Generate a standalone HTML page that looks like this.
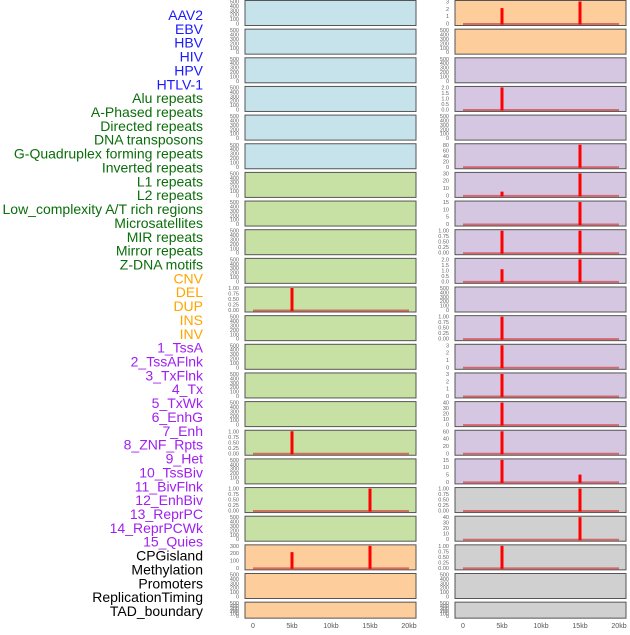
<!DOCTYPE html>
<html><head><meta charset="utf-8"><style>
body{margin:0;background:#fff;width:630px;height:630px;overflow:hidden;font-family:"Liberation Sans",sans-serif}
</style></head><body>
<svg id="chart" width="630" height="630" xmlns="http://www.w3.org/2000/svg"></svg>
<script>
const labels=["AAV2","EBV","HBV","HIV","HPV","HTLV-1","Alu repeats","A-Phased repeats","Directed repeats","DNA transposons","G-Quadruplex forming repeats","Inverted repeats","L1 repeats","L2 repeats","Low_complexity A/T rich regions","Microsatellites","MIR repeats","Mirror repeats","Z-DNA motifs","CNV","DEL","DUP","INS","INV","1_TssA","2_TssAFlnk","3_TxFlnk","4_Tx","5_TxWk","6_EnhG","7_Enh","8_ZNF_Rpts","9_Het","10_TssBiv","11_BivFlnk","12_EnhBiv","13_ReprPC","14_ReprPCWk","15_Quies","CPGisland","Methylation","Promoters","ReplicationTiming","TAD_boundary"];
const labelColors=["#1a1aff","#1a1aff","#1a1aff","#1a1aff","#1a1aff","#1a1aff","#0a6e0a","#0a6e0a","#0a6e0a","#0a6e0a","#0a6e0a","#0a6e0a","#0a6e0a","#0a6e0a","#0a6e0a","#0a6e0a","#0a6e0a","#0a6e0a","#0a6e0a","#ffa500","#ffa500","#ffa500","#ffa500","#ffa500","#a020f0","#a020f0","#a020f0","#a020f0","#a020f0","#a020f0","#a020f0","#a020f0","#a020f0","#a020f0","#a020f0","#a020f0","#a020f0","#a020f0","#a020f0","#000","#000","#000","#000","#000"];
// left column panel colours and y-max
const leftFill=["#c6e3ec","#c6e3ec","#c6e3ec","#c6e3ec","#c6e3ec","#c6e3ec","#c7e0a3","#c7e0a3","#c7e0a3","#c7e0a3","#c7e0a3","#c7e0a3","#c7e0a3","#c7e0a3","#c7e0a3","#c7e0a3","#c7e0a3","#c7e0a3","#c7e0a3","#fdcd9c","#fdcd9c","#fdcd9c"];
const rightFill=["#fdcd9c","#fdcd9c","#d5c6e2","#d5c6e2","#d5c6e2","#d5c6e2","#d5c6e2","#d5c6e2","#d5c6e2","#d5c6e2","#d5c6e2","#d5c6e2","#d5c6e2","#d5c6e2","#d5c6e2","#d5c6e2","#d5c6e2","#d0d0d0","#d0d0d0","#d0d0d0","#d0d0d0","#d0d0d0"];
// tick labels per panel ("" = empty panel default 0..500)
const leftTicks=[null,null,null,null,null,null,null,null,null,null,["0.00","0.25","0.50","0.75","1.00"],null,null,null,null,["0.00","0.25","0.50","0.75","1.00"],null,["0.00","0.25","0.50","0.75","1.00"],null,["0","100","200","300"],null,null];
const rightTicks=[["0","1","2","3"],null,null,["0.0","0.5","1.0","1.5","2.0"],null,["0","20","40","60","80"],["0","10","20","30"],["0","5","10","15"],["0.00","0.25","0.50","0.75","1.00"],["0.0","0.5","1.0","1.5","2.0"],null,["0.00","0.25","0.50","0.75","1.00"],["0","1","2","3"],["0","1","2","3"],["0","10","20","30","40"],["0","20","40","60"],["0","5","10","15"],["0.00","0.25","0.50","0.75","1.00"],["0","10","20","30","40"],["0.00","0.25","0.50","0.75","1.00"],null,null];
const leftMax=[500,500,500,500,500,500,500,500,500,500,1,500,500,500,500,1,500,1,500,350,500,500];
const rightMax=[3,500,500,2,500,80,35,15,1,2,500,1,3,3,42,60,15,1,40,1,500,500];
// spikes: [position kb, value]
const leftSpikes=[[],[],[],[],[],[],[],[],[],[],[[5,1]],[],[],[],[],[[5,1]],[],[[15,1]],[],[[5,250],[15,350]],[],[]];
const rightSpikes=[[[5,2.1],[15,3]],[],[],[[5,2]],[],[[15,80]],[[5,6],[15,35]],[[15,15]],[[5,1],[15,1]],[[5,1.1],[15,2]],[],[[5,1]],[[5,3]],[[5,3]],[[5,42]],[[5,60]],[[5,15],[15,5]],[[15,1]],[[15,40]],[[5,1]],[],[]];
const xTicks=["0","5kb","10kb","15kb","20kb"];
const xTickVals=[0,5,10,15,20];

const NS="http://www.w3.org/2000/svg";
const svg=document.getElementById('chart');
function mk(tag,attrs,parent){const e=document.createElementNS(NS,tag);for(const k in attrs)e.setAttribute(k,attrs[k]);(parent||svg).appendChild(e);return e;}

// labels
const lTop=15,lBot=611,step=(lBot-lTop)/(labels.length-1);
labels.forEach((t,i)=>{const e=mk('text',{x:203,y:lTop+i*step+5,'text-anchor':'end','font-size':'14',fill:labelColors[i]});e.textContent=t;

});

const rowTop=i=>i*28.65;
function panel(col,i,fill,ticks,ymax,spikes){
 const x0=col?455:245,w=171;
 const y0=rowTop(i)+0.5,h=(i==21?16:25);
 const xs=kb=>x0+8+kb*7.8;
 const ys=v=>y0+h-2-(v/ymax)*(h-3);
 const g=mk('g',{});
 
 
 mk('rect',{x:x0,y:y0,width:w,height:h,fill:fill,stroke:'#555','stroke-width':1},g);
 const tk=ticks||["0","100","200","300","400","500"];
 const tmax=ticks?parseFloat(tk[tk.length-1]):500;
 tk.forEach(t=>{const v=parseFloat(t);const yy=y0+h-2-(v/tmax)*(h-3);
  const e=mk('text',{x:x0-6,y:yy+2,'text-anchor':'end','font-size':'5.5',fill:'#666'},g);e.textContent=t;
  });
 if(spikes.length){
  const b=mk('line',{x1:xs(0),x2:xs(20),y1:y0+h-1.5,y2:y0+h-1.5,stroke:'#d04040','stroke-width':2,'stroke-opacity':0.7},g);
  
  spikes.forEach(s=>{const top=Math.max(y0,ys(s[1]));
   const r=mk('rect',{x:xs(s[0])-1.5,y:top,width:3,height:y0+h-1-top,fill:'#ff0000'},g);
   });
 }
}
for(let i=0;i<22;i++){panel(0,i,leftFill[i],leftTicks[i],leftMax[i],leftSpikes[i]);panel(1,i,rightFill[i],rightTicks[i],rightMax[i],rightSpikes[i]);}
[0,1].forEach(col=>{xTickVals.forEach((v,j)=>{const x=(col?455:245)+8+v*7.8;
 const e=mk('text',{x:x,y:628,'text-anchor':'middle','font-size':'7',fill:'#555'});e.textContent=xTicks[j];
 });});
</script>
</body></html>
